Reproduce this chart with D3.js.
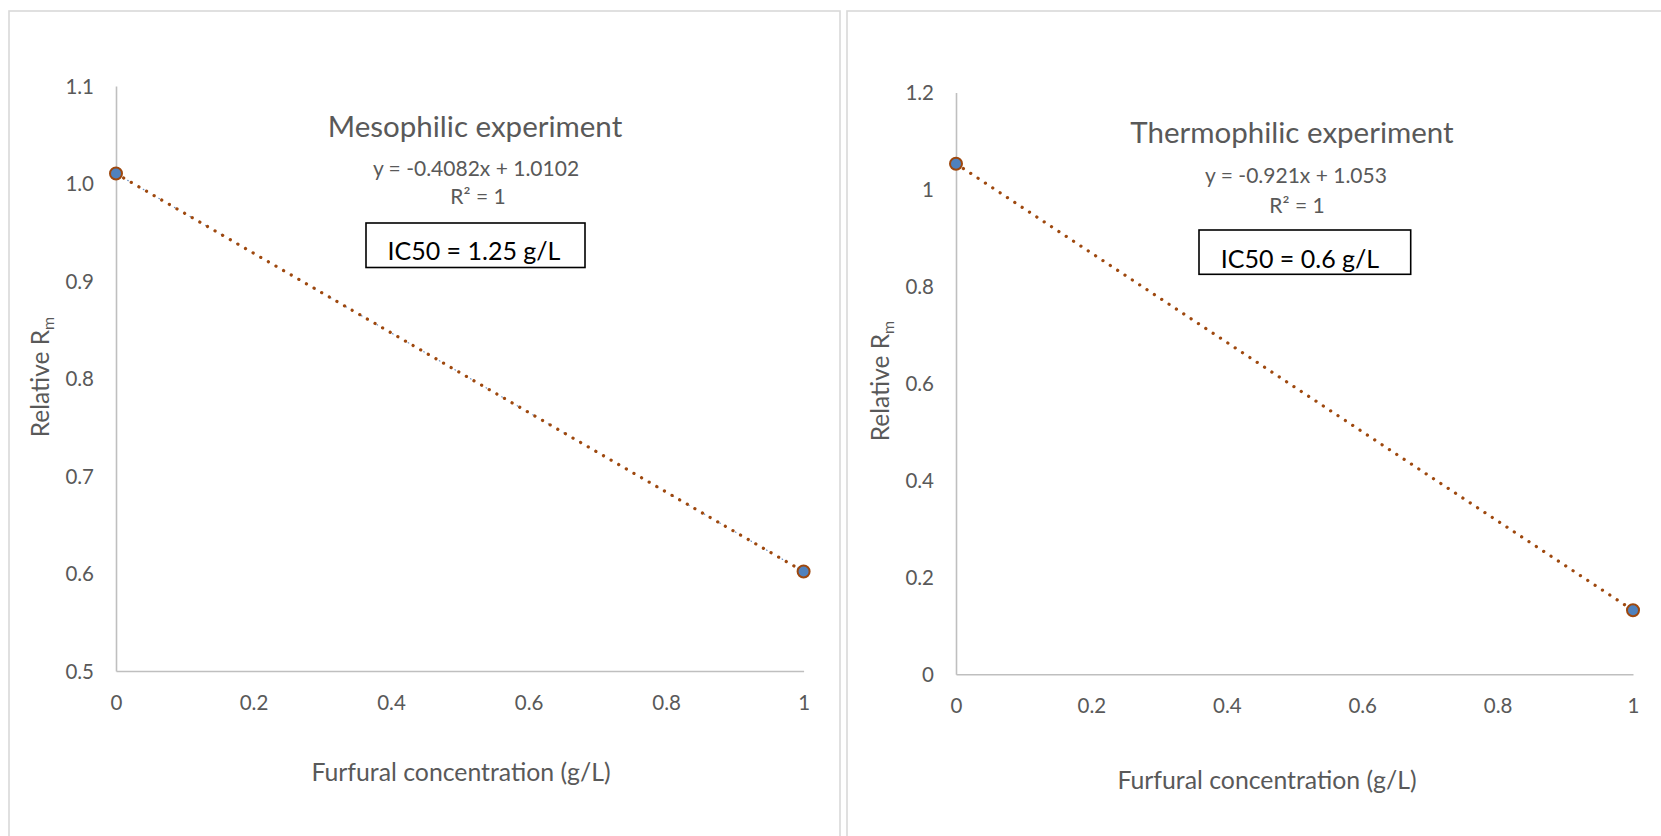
<!DOCTYPE html>
<html>
<head>
<meta charset="utf-8">
<script src="https://cdn.jsdelivr.net/npm/d3@7"></script>
<style>
  html, body { margin: 0; padding: 0; background: #ffffff; }
  svg { display: block; }
  text { font-family: Lato, "Open Sans", sans-serif; }
</style>
</head>
<body>
<svg id="chart" width="1661" height="836"></svg>
<script>
// Furfural concentrations tested (g/L)
const concentration = [0, 1];

// Relative Rm measured in each experiment
const mesophilicRm = [1.0102, 0.602];
const thermophilicRm = [1.053, 0.132];

// Linear fits (slope, intercept) and their labels
const mesophilicFit = [-0.4082, 1.0102];
const thermophilicFit = [-0.921, 1.053];
const mesophilicEquation = "y = -0.4082x + 1.0102";
const thermophilicEquation = "y = -0.921x + 1.053";
const mesophilicIC50 = "IC50 = 1.25 g/L";
const thermophilicIC50 = "IC50 = 0.6 g/L";

// Axis ticks
const xTicks = [0, 0.2, 0.4, 0.6, 0.8, 1];
const xTickLabels = ["0", "0.2", "0.4", "0.6", "0.8", "1"];
const mesoYTicks = [0.5, 0.6, 0.7, 0.8, 0.9, 1.0, 1.1];
const mesoYTickLabels = ["0.5", "0.6", "0.7", "0.8", "0.9", "1.0", "1.1"];
const thermoYTicks = [0, 0.2, 0.4, 0.6, 0.8, 1, 1.2];
const thermoYTickLabels = ["0", "0.2", "0.4", "0.6", "0.8", "1", "1.2"];

const svg = d3.select("#chart");

const panels = [
  {
    frame: { x: 9, y: 11, w: 831, h: 840 },
    xRange: [116, 803.6], yRange: [671, 86], yDomain: [0.5, 1.1],
    yTicks: mesoYTicks, yTickLabels: mesoYTickLabels,
    values: mesophilicRm, fit: mesophilicFit, showSeriesLine: true,
    title: "Mesophilic experiment", titlePos: [475, 137],
    equation: mesophilicEquation, eqPos: [476, 176], r2Pos: [478, 204],
    ic50: mesophilicIC50, box: [366, 223, 219, 44.5], ic50Pos: [474, 260],
    yLabelPos: [49, 377], xLabelPos: [461, 781],
    xTickBaseline: 710
  },
  {
    frame: { x: 847, y: 11, w: 840, h: 840 },
    xRange: [956, 1633], yRange: [674.3, 92.4], yDomain: [0, 1.2],
    yTicks: thermoYTicks, yTickLabels: thermoYTickLabels,
    values: thermophilicRm, fit: thermophilicFit, showSeriesLine: false,
    title: "Thermophilic experiment", titlePos: [1292, 143],
    equation: thermophilicEquation, eqPos: [1296, 183], r2Pos: [1297, 213],
    ic50: thermophilicIC50, box: [1199, 230, 211.7, 44.3], ic50Pos: [1300, 268],
    yLabelPos: [889, 381], xLabelPos: [1267, 789],
    xTickBaseline: 713
  }
];

panels.forEach(p => {
  const g = svg.append("g");

  // chart area frame
  g.append("rect")
    .attr("x", p.frame.x).attr("y", p.frame.y)
    .attr("width", p.frame.w).attr("height", p.frame.h)
    .attr("fill", "#ffffff")
    .attr("stroke", "#d9d9d9").attr("stroke-width", 1.6);

  const x = d3.scaleLinear().domain([0, 1]).range(p.xRange);
  const y = d3.scaleLinear().domain(p.yDomain).range(p.yRange);

  // axes
  const xAxis = d3.axisBottom(x).tickValues(xTicks)
    .tickFormat((d, i) => xTickLabels[i]).tickSize(0).tickPadding(0);
  const yAxis = d3.axisLeft(y).tickValues(p.yTicks)
    .tickFormat((d, i) => p.yTickLabels[i]).tickSize(0).tickPadding(0);

  const gx = g.append("g").attr("transform", `translate(0,${p.yRange[0]})`).call(xAxis);
  const gy = g.append("g").attr("transform", `translate(${p.xRange[0]},0)`).call(yAxis);

  [gx, gy].forEach(a => {
    a.select(".domain").attr("stroke", "#bfbfbf").attr("stroke-width", 1.6);
    a.selectAll("text")
      .attr("fill", "#595959")
      .style("font-size", "20.5px")
      .style("font-family", "Lato, sans-serif");
  });
  gx.selectAll(".tick text")
    .attr("dy", null)
    .attr("y", p.xTickBaseline - p.yRange[0]);
  gy.selectAll(".tick text")
    .attr("x", -22)
    .attr("dy", "0.36em");

  // series line between measured points
  if (p.showSeriesLine) {
    g.append("path")
      .datum(concentration.map((c, i) => [c, p.values[i]]))
      .attr("d", d3.line().x(d => x(d[0])).y(d => y(d[1])))
      .attr("fill", "none")
      .attr("stroke", "#6a8fc0").attr("stroke-width", 1.2)
      .attr("stroke-dasharray", "0.6 17.4").attr("stroke-dashoffset", 4.4)
      .attr("stroke-linecap", "round");
  }

  // linear trendline
  const fitPts = [0, 1].map(c => [c, p.fit[0] * c + p.fit[1]]);
  g.append("path")
    .datum(fitPts)
    .attr("d", d3.line().x(d => x(d[0])).y(d => y(d[1])))
    .attr("fill", "none")
    .attr("stroke", "#9e480e").attr("stroke-width", 3.2)
    .attr("stroke-dasharray", "0.1 8.7")
    .attr("stroke-linecap", "round");

  // measured points
  g.selectAll("circle.pt")
    .data(concentration.map((c, i) => [c, p.values[i]]))
    .join("circle")
    .attr("class", "pt")
    .attr("cx", d => x(d[0])).attr("cy", d => y(d[1]))
    .attr("r", 6)
    .attr("fill", "#4f81bd")
    .attr("stroke", "#9e480e").attr("stroke-width", 2);

  // title and fit annotation
  g.append("text")
    .attr("x", p.titlePos[0]).attr("y", p.titlePos[1])
    .attr("text-anchor", "middle")
    .attr("fill", "#595959")
    .style("font-size", "29.5px")
    .text(p.title);

  g.append("text")
    .attr("x", p.eqPos[0]).attr("y", p.eqPos[1])
    .attr("text-anchor", "middle")
    .attr("fill", "#595959")
    .style("font-size", "21px")
    .text(p.equation);

  g.append("text")
    .attr("x", p.r2Pos[0]).attr("y", p.r2Pos[1])
    .attr("text-anchor", "middle")
    .attr("fill", "#595959")
    .style("font-size", "21px")
    .text("R² = 1");

  g.append("rect")
    .attr("x", p.box[0]).attr("y", p.box[1])
    .attr("width", p.box[2]).attr("height", p.box[3])
    .attr("fill", "#ffffff")
    .attr("stroke", "#000000").attr("stroke-width", 1.6);

  g.append("text")
    .attr("x", p.ic50Pos[0]).attr("y", p.ic50Pos[1])
    .attr("text-anchor", "middle")
    .attr("fill", "#000000")
    .style("font-size", "25px")
    .text(p.ic50);

  // axis titles
  const yl = g.append("text")
    .attr("transform", `translate(${p.yLabelPos[0]},${p.yLabelPos[1]}) rotate(-90)`)
    .attr("text-anchor", "middle")
    .attr("fill", "#595959")
    .style("font-size", "24.5px");
  yl.append("tspan").text("Relative R");
  yl.append("tspan").attr("dy", "0.3em").style("font-size", "16px").text("m");

  g.append("text")
    .attr("x", p.xLabelPos[0]).attr("y", p.xLabelPos[1])
    .attr("text-anchor", "middle")
    .attr("fill", "#595959")
    .style("font-size", "24.8px")
    .text("Furfural concentration (g/L)");
});
</script>
</body>
</html>
